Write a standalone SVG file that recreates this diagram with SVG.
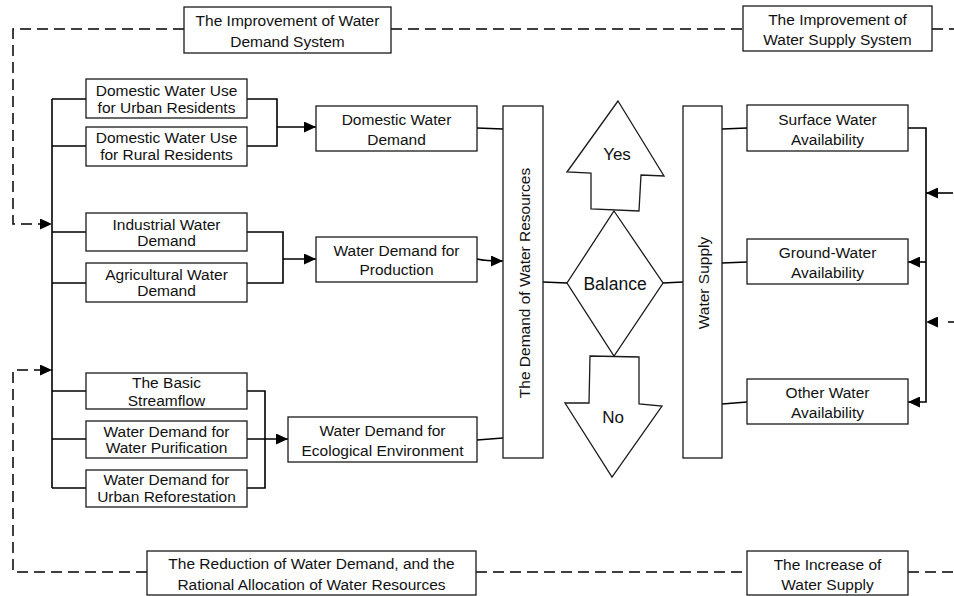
<svg xmlns="http://www.w3.org/2000/svg" width="954" height="596" viewBox="0 0 954 596">
<style>
.box{fill:#fff;stroke:#1a1a1a;stroke-width:1.3}
.t{font-family:"Liberation Sans",Arial,sans-serif;font-size:15.5px;fill:#111;text-anchor:middle}
.big{font-size:17px}
.c{fill:none;stroke:#000;stroke-width:1.6}
.d{fill:none;stroke:#000;stroke-width:1.5;stroke-dasharray:11 6}
</style>
<defs>
<marker id="ah" markerUnits="userSpaceOnUse" markerWidth="12" markerHeight="11" refX="12" refY="5.5" orient="auto">
<path d="M0,0 L12,5.5 L0,11 z" fill="#000"/>
</marker>
</defs>
<rect width="954" height="596" fill="#fff"/>

<g id="connectors">
<!-- dashed feedback loops -->
<path class="d" d="M184,29 H13 V224 H52" marker-end="url(#ah)"/>
<path class="d" d="M391,29 H743"/>
<path class="d" d="M932,29 H954"/>
<path class="d" d="M147,572 H13 V370 H52" marker-end="url(#ah)"/>
<path class="d" d="M476,572 H747"/>
<path class="d" d="M908,572 H954"/>
<path class="c" d="M954,322 H926" style="stroke-dasharray:6 12" marker-end="url(#ah)"/>
<path class="c" d="M953,193 H926" marker-end="url(#ah)"/>
<!-- left bus -->
<path class="c" d="M52,99 V488"/>
<path class="c" d="M52,99 H86 M52,146 H86 M52,232 H86 M52,283 H86 M52,391 H86 M52,439 H86 M52,488 H86"/>
<!-- brackets -->
<path class="c" d="M247,99 H277 V146 H247"/>
<path class="c" d="M277,127 H316" marker-end="url(#ah)"/>
<path class="c" d="M247,232 H283 V283 H247"/>
<path class="c" d="M283,259 H316" marker-end="url(#ah)"/>
<path class="c" d="M247,391 H265 V488 H247"/>
<path class="c" d="M247,439 H288" marker-end="url(#ah)"/>
<!-- to demand column -->
<path class="c" d="M477,128 L503,129"/>
<path class="c" d="M477,259 Q485,261 503,261" marker-end="url(#ah)"/>
<path class="c" d="M477,440 L503,438"/>
<!-- balance -->
<path class="c" d="M543,282 L567,283"/>
<path class="c" d="M663,283 L683,282"/>
<!-- supply side -->
<path class="c" d="M722,129 L747,128"/>
<path class="c" d="M722,263 L747,262"/>
<path class="c" d="M722,404 L747,402"/>
<path class="c" d="M908,128 H926 V402 H908" marker-end="url(#ah)"/>
<path class="c" d="M926,262 H908" marker-end="url(#ah)"/>
</g>

<g id="improve-demand"><rect class="box" x="184" y="7" width="207" height="46"/><text class="t" x="287.5" y="26">The Improvement of Water</text><text class="t" x="287.5" y="47">Demand System</text></g>
<g id="improve-supply"><rect class="box" x="743" y="6" width="189" height="45"/><text class="t" x="837.5" y="25">The Improvement of</text><text class="t" x="837.5" y="45">Water Supply System</text></g>

<g id="urban"><rect class="box" x="86" y="79" width="161" height="39"/><text class="t" x="166.5" y="96">Domestic Water Use</text><text class="t" x="166.5" y="113">for Urban Residents</text></g>
<g id="rural"><rect class="box" x="86" y="127" width="161" height="39"/><text class="t" x="166.5" y="143">Domestic Water Use</text><text class="t" x="166.5" y="160">for Rural Residents</text></g>
<g id="industrial"><rect class="box" x="86" y="213" width="161" height="38"/><text class="t" x="166.5" y="229.5">Industrial Water</text><text class="t" x="166.5" y="246">Demand</text></g>
<g id="agricultural"><rect class="box" x="86" y="263" width="161" height="39"/><text class="t" x="166.5" y="279.5">Agricultural Water</text><text class="t" x="166.5" y="296">Demand</text></g>
<g id="streamflow"><rect class="box" x="86" y="373" width="161" height="36"/><text class="t" x="166.5" y="388">The Basic</text><text class="t" x="166.5" y="405.5">Streamflow</text></g>
<g id="purification"><rect class="box" x="86" y="421" width="161" height="37"/><text class="t" x="166.5" y="436.5">Water Demand for</text><text class="t" x="166.5" y="453">Water Purification</text></g>
<g id="reforestation"><rect class="box" x="86" y="470" width="161" height="37"/><text class="t" x="166.5" y="484.5">Water Demand for</text><text class="t" x="166.5" y="501.5">Urban Reforestation</text></g>

<g id="domestic-demand"><rect class="box" x="316" y="106" width="161" height="45"/><text class="t" x="396.5" y="124.5">Domestic Water</text><text class="t" x="396.5" y="144.5">Demand</text></g>
<g id="production-demand"><rect class="box" x="316" y="237" width="161" height="45"/><text class="t" x="396.5" y="255.5">Water Demand for</text><text class="t" x="396.5" y="275">Production</text></g>
<g id="ecological-demand"><rect class="box" x="288" y="417" width="189" height="45"/><text class="t" x="382.5" y="435.5">Water Demand for</text><text class="t" x="382.5" y="456">Ecological Environment</text></g>

<g id="demand-resources"><rect class="box" x="503" y="106" width="40" height="352"/><text class="t" x="529.5" y="283" transform="rotate(-90 529.5 283)">The Demand of Water Resources</text></g>

<g id="yes"><polygon class="box" points="618,101 664,176 641,175 639,211 591,209 591,173 567,172"/><text class="t big" x="617" y="160">Yes</text></g>
<g id="balance"><polygon class="box" points="614,211 663,283 614,356 567,283"/><text class="t" style="font-size:17.5px" x="615" y="290">Balance</text></g>
<g id="no"><polygon class="box" points="590,356 639,357 639,404 662,406 612,477 565,403 589,403"/><text class="t big" x="613" y="423">No</text></g>

<g id="water-supply"><rect class="box" x="683" y="106" width="39" height="352"/><text class="t" x="709" y="283" transform="rotate(-90 709 283)">Water Supply</text></g>

<g id="surface"><rect class="box" x="747" y="105" width="161" height="46"/><text class="t" x="827.5" y="125">Surface Water</text><text class="t" x="827.5" y="145">Availability</text></g>
<g id="ground"><rect class="box" x="747" y="239" width="161" height="45"/><text class="t" x="827.5" y="258">Ground-Water</text><text class="t" x="827.5" y="278">Availability</text></g>
<g id="other"><rect class="box" x="747" y="379" width="161" height="45"/><text class="t" x="827.5" y="398">Other Water</text><text class="t" x="827.5" y="418">Availability</text></g>

<g id="reduction"><rect class="box" x="147" y="551" width="329" height="44"/><text class="t" x="311.5" y="569">The Reduction of Water Demand, and the</text><text class="t" x="311.5" y="589.5">Rational Allocation of Water Resources</text></g>
<g id="increase"><rect class="box" x="747" y="551" width="161" height="44"/><text class="t" x="827.5" y="569.5">The Increase of</text><text class="t" x="827.5" y="589.5">Water Supply</text></g>
</svg>
